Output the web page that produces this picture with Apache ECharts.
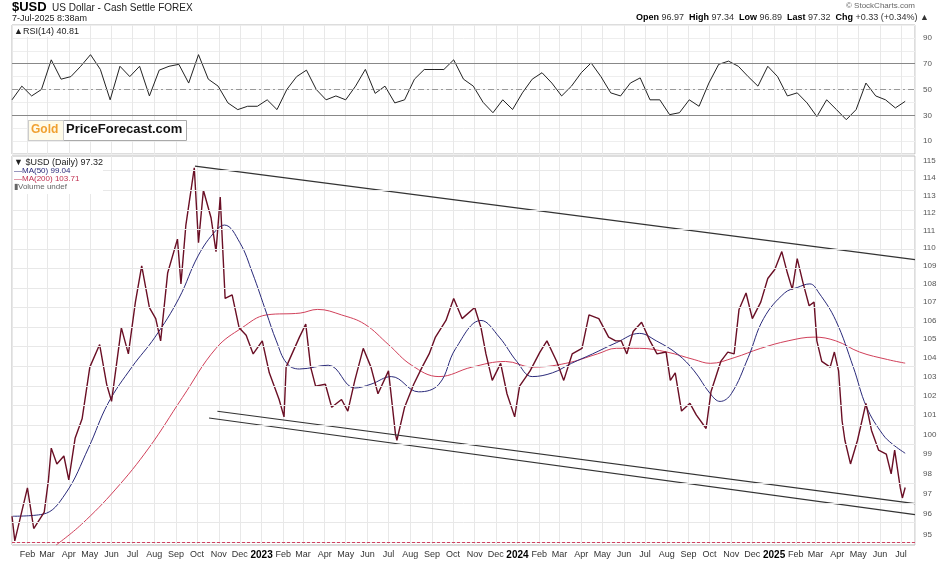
<!DOCTYPE html>
<html>
<head>
<meta charset="utf-8">
<script src="https://cdn.jsdelivr.net/npm/echarts@6/dist/echarts.min.js"></script>
<style>
  html, body { margin: 0; padding: 0; background: #fff; }
  #charts { width: 945px; height: 561px; }
</style>
</head>
<body>
<div id="charts"></div>
<script>
// daily close
var priceDates = ['2022-01-10','2022-01-14','2022-02-01','2022-02-10','2022-02-25','2022-03-03','2022-03-07','2022-03-15','2022-03-25','2022-04-01','2022-04-10','2022-04-20','2022-05-01','2022-05-15','2022-05-25','2022-06-01','2022-06-15','2022-06-25','2022-07-05','2022-07-14','2022-07-25','2022-08-03','2022-08-10','2022-08-20','2022-09-03','2022-09-08','2022-09-15','2022-09-27','2022-10-03','2022-10-10','2022-10-21','2022-10-28','2022-11-03','2022-11-10','2022-11-20','2022-11-30','2022-12-10','2022-12-20','2023-01-02','2023-01-12','2023-01-26','2023-02-02','2023-02-05','2023-02-24','2023-03-05','2023-03-12','2023-03-19','2023-04-02','2023-04-11','2023-04-25','2023-05-04','2023-05-14','2023-05-26','2023-06-06','2023-06-16','2023-07-01','2023-07-11','2023-07-13','2023-07-24','2023-08-06','2023-08-18','2023-08-28','2023-09-06','2023-09-21','2023-10-02','2023-10-14','2023-11-01','2023-11-10','2023-11-17','2023-11-26','2023-12-08','2023-12-17','2023-12-28','2024-01-04','2024-01-19','2024-02-02','2024-02-12','2024-02-26','2024-03-07','2024-03-19','2024-04-02','2024-04-12','2024-04-26','2024-05-10','2024-05-20','2024-05-28','2024-06-05','2024-06-14','2024-06-26','2024-07-08','2024-07-18','2024-07-31','2024-08-06','2024-08-13','2024-08-22','2024-09-03','2024-09-12','2024-09-26','2024-10-03','2024-10-17','2024-10-27','2024-11-05','2024-11-12','2024-11-22','2024-12-01','2024-12-13','2024-12-23','2025-01-02','2025-01-12','2025-01-20','2025-01-27','2025-02-03','2025-02-11','2025-02-20','2025-02-27','2025-03-03','2025-03-10','2025-03-22','2025-03-28','2025-04-03','2025-04-08','2025-04-12','2025-04-20','2025-04-30','2025-05-12','2025-05-20','2025-05-30','2025-06-10','2025-06-17','2025-06-22','2025-06-30','2025-07-03','2025-07-07'];
var priceVals = [95.9,94.7,97.3,95.3,96.1,97.7,99.3,98.5,98.9,97.7,99.8,100.8,103.5,104.7,102.6,101.7,105.6,104.2,107.0,109.0,106.7,106.1,104.9,108.6,110.5,108.0,111.3,114.6,110.3,113.3,111.7,109.8,112.9,107.2,107.4,105.6,105.2,104.2,104.9,103.2,101.8,100.9,103.5,105.1,105.8,103.5,102.5,102.6,101.4,101.8,101.2,102.8,104.5,103.5,102.1,103.3,100.0,99.7,101.4,102.6,103.5,104.2,105.1,106.0,107.2,106.1,106.7,105.6,104.2,102.8,103.7,102.1,100.9,102.5,103.3,104.3,104.9,103.8,102.8,104.2,104.5,106.3,106.1,105.1,104.9,104.9,104.2,105.4,105.9,104.9,104.2,104.3,102.8,103.2,101.2,101.6,101.0,100.3,102.2,103.8,104.3,104.2,106.6,107.5,106.1,107.0,108.3,108.8,109.8,108.6,107.7,109.4,108.1,106.8,107.0,104.9,103.8,103.5,104.3,103.3,100.7,99.7,98.5,99.7,101.6,100.2,99.2,99.0,98.0,99.2,97.3,96.8,97.32];

var ma50Dates = ['2022-01-11','2022-02-23','2022-03-27','2022-04-29','2022-05-27','2022-06-30','2022-08-02','2022-09-05','2022-10-03','2022-10-28','2022-11-09','2022-12-01','2022-12-19','2023-01-08','2023-01-22','2023-02-06','2023-02-24','2023-04-06','2023-05-14','2023-06-06','2023-07-05','2023-08-13','2023-09-11','2023-10-05','2023-11-10','2023-12-06','2023-12-31','2024-01-22','2024-02-20','2024-03-18','2024-04-17','2024-05-21','2024-06-23','2024-07-17','2024-08-16','2024-09-09','2024-10-02','2024-10-16','2024-11-01','2024-11-25','2024-12-17','2025-01-16','2025-02-03','2025-02-21','2025-03-06','2025-03-30','2025-04-24','2025-05-13','2025-06-05','2025-06-19','2025-07-07'];
var ma50Vals = [95.9,96.0,97.0,99.3,101.6,103.5,105.1,107.2,109.6,111.0,111.3,110.3,108.6,106.4,104.9,103.7,103.4,103.6,102.4,102.6,103.0,102.2,102.6,104.5,106.0,105.1,103.8,103.0,103.2,103.7,104.2,104.8,105.3,104.9,104.2,103.3,102.1,101.7,102.1,104.0,106.1,107.5,107.8,108.0,107.5,106.0,103.5,101.4,100.0,99.5,99.04];

var ma200Dates = ['2022-03-14','2022-04-19','2022-06-06','2022-07-24','2022-09-10','2022-10-28','2022-12-04','2023-01-08','2023-02-25','2023-03-22','2023-04-25','2023-05-28','2023-07-01','2023-08-03','2023-09-11','2023-10-28','2023-12-15','2024-01-22','2024-03-10','2024-04-24','2024-05-21','2024-06-23','2024-08-01','2024-09-09','2024-10-02','2024-11-05','2024-12-13','2025-01-21','2025-02-27','2025-03-30','2025-05-03','2025-06-12','2025-07-07'];
var ma200Vals = [94.5,95.5,97.2,99.3,101.9,104.5,105.6,106.3,106.4,106.6,106.3,105.8,104.7,103.6,103.0,103.5,103.8,103.5,103.7,104.2,104.5,104.5,104.3,103.9,103.7,104.0,104.5,104.9,105.1,104.9,104.3,103.9,103.71];

// RSI(14), one reading every two weeks from 2022-01-10
var rsiVals = [42,52.6,45,50,73,58,60,68,77,65.6,42,68,60,68,45,65,68,69.5,55,77,58,52.6,39.6,34.4,37,37,42,34.4,50,60,65,50,42,45,42,52.6,65.6,47,52.6,39.6,42,58,65.5,65.5,65.5,73,58,52.6,40,32,42,34.5,47.4,58,63,55,45,52.6,63,70.6,60,47.4,45,55,59,42,42,30.5,32,42,37,55,69.5,72,68,60,52.6,68,60,45,47.4,39.6,29,42,34.4,26.6,34.4,55,45,42,35.7,40.81];

// trend channel: [date, price]
var upperLine = [['2022-09-28', 114.7], ['2025-07-21', 109.35]];
var lowerLine1 = [['2022-10-30', 101.19], ['2025-07-21', 96.52]];
var lowerLine2 = [['2022-10-18', 100.84], ['2025-07-21', 95.98]];
var priceTicks = [95,96,97,98,99,100,101,102,103,104,105,106,107,108,109,110,111,112,113,114,115];
var supportLevel = 94.6;

var rsiDates = [];
var d0 = new Date('2022-01-10T00:00:00Z').getTime();
for (var i = 0; i < rsiVals.length; i++) {
  rsiDates.push(new Date(d0 + i * 14 * 86400000).toISOString().slice(0, 10));
}

function zipLn(ds, vs) {
  return ds.map(function (d, i) { return [d, Math.log(vs[i])]; });
}
function lineLn(pts) {
  return pts.map(function (p) { return [p[0], Math.log(p[1])]; });
}

var myChart = echarts.init(document.getElementById('charts'), null, { renderer: 'canvas' });

var font = 'Arial, "Liberation Sans", sans-serif';
var xMin = '2022-01-10', xMax = '2025-07-21';

var option = {
  animation: false,
  backgroundColor: '#fff',
  textStyle: { fontFamily: font },
  grid: [
    { left: 12, right: 30, top: 25, height: 129, show: true, borderColor: '#bbb', borderWidth: 1 },
    { left: 12, right: 30, top: 156, bottom: 16, show: true, borderColor: '#bbb', borderWidth: 1 }
  ],
  xAxis: [
    {
      type: 'time', gridIndex: 0, min: xMin, max: xMax,
      minInterval: 28 * 86400000, maxInterval: 31 * 86400000,
      axisLine: { show: false }, axisTick: { show: false }, axisLabel: { show: false },
      splitLine: { show: true, lineStyle: { color: '#e8e8e8' } }
    },
    {
      type: 'time', gridIndex: 1, min: xMin, max: xMax,
      minInterval: 28 * 86400000, maxInterval: 31 * 86400000,
      axisLine: { show: false }, axisTick: { show: false },
      splitLine: { show: true, lineStyle: { color: '#e8e8e8' } },
      axisLabel: {
        fontSize: 9, color: '#333', margin: 5, hideOverlap: false,
        formatter: { year: '{y|{yyyy}}', month: '{MMM}', day: '', hour: '' },
        rich: { y: { fontWeight: 'bold', fontSize: 10, color: '#000' } }
      }
    }
  ],
  yAxis: [
    {
      type: 'value', gridIndex: 0, position: 'right', min: 0, max: 100, interval: 10,
      axisLine: { show: false }, axisTick: { show: false },
      splitLine: { show: true, lineStyle: { color: '#eeeeee' } },
      axisLabel: {
        fontSize: 8, color: '#555', margin: 8,
        formatter: function (v) { return (v % 20 === 10) ? String(v) : ''; }
      }
    },
    {
      type: 'value', gridIndex: 1, position: 'right',
      min: Math.log(94.5), max: Math.log(115.3),
      axisLine: { show: false }, splitLine: { show: false },
      axisTick: { show: false, customValues: priceTicks.map(Math.log) },
      axisLabel: {
        fontSize: 8, color: '#555', margin: 8,
        customValues: priceTicks.map(Math.log),
        formatter: function (v) { return String(Math.round(Math.exp(v))); }
      }
    }
  ],
  series: [
    {
      name: 'RSI', type: 'line', xAxisIndex: 0, yAxisIndex: 0, symbol: 'none',
      data: rsiDates.map(function (d, i) { return [d, rsiVals[i]]; }),
      lineStyle: { color: '#222', width: 1 },
      markLine: {
        silent: true, symbol: 'none', label: { show: false },
        data: [
          { yAxis: 70, lineStyle: { color: '#888', type: 'solid', width: 1.2 } },
          { yAxis: 30, lineStyle: { color: '#888', type: 'solid', width: 1.2 } },
          { yAxis: 50, lineStyle: { color: '#999', type: [6, 3, 2, 3], width: 1 } }
        ]
      }
    },
    {
      name: 'grid', type: 'line', xAxisIndex: 1, yAxisIndex: 1, data: [], silent: true,
      markLine: {
        silent: true, symbol: 'none', label: { show: false },
        lineStyle: { color: '#e8e8e8', type: 'solid', width: 1 },
        data: priceTicks.map(function (t) { return { yAxis: Math.log(t) }; })
          .concat([{ yAxis: Math.log(supportLevel), lineStyle: { color: '#d04060', type: [3, 2], width: 1.2 } }])
      }
    },
    {
      name: 'MA(200)', type: 'line', xAxisIndex: 1, yAxisIndex: 1, symbol: 'none', smooth: 0.4,
      data: zipLn(ma200Dates, ma200Vals), lineStyle: { color: '#d0405a', width: 1 }
    },
    {
      name: 'MA(50)', type: 'line', xAxisIndex: 1, yAxisIndex: 1, symbol: 'none', smooth: 0.4,
      data: zipLn(ma50Dates, ma50Vals), lineStyle: { color: '#2a2a7a', width: 1 }
    },
    {
      name: '$USD', type: 'line', xAxisIndex: 1, yAxisIndex: 1, symbol: 'none',
      data: zipLn(priceDates, priceVals), lineStyle: { color: '#6a0f25', width: 1.4 }
    },
    {
      name: 'upper', type: 'line', xAxisIndex: 1, yAxisIndex: 1, symbol: 'none',
      data: lineLn(upperLine), lineStyle: { color: '#333', width: 1.2 }
    },
    {
      name: 'lower1', type: 'line', xAxisIndex: 1, yAxisIndex: 1, symbol: 'none',
      data: lineLn(lowerLine1), lineStyle: { color: '#333', width: 1.2 }
    },
    {
      name: 'lower2', type: 'line', xAxisIndex: 1, yAxisIndex: 1, symbol: 'none',
      data: lineLn(lowerLine2), lineStyle: { color: '#333', width: 1.2 }
    }
  ],
  graphic: {
    elements: [
      { type: 'text', z: 100, left: 12, top: 1, style: { text: '$USD', font: 'bold 13px ' + font, fill: '#000' } },
      { type: 'text', z: 100, left: 52, top: 3, style: { text: 'US Dollar - Cash Settle FOREX', font: '10px ' + font, fill: '#222' } },
      { type: 'text', z: 100, left: 12, top: 14, style: { text: '7-Jul-2025 8:38am', font: '9px ' + font, fill: '#222' } },
      { type: 'text', z: 100, right: 30, top: 2, style: { text: '© StockCharts.com', font: '8px ' + font, fill: '#666' } },
      { type: 'text', z: 100, right: 16, top: 13, style: {
          text: '{b|Open} 96.97  {b|High} 97.34  {b|Low} 96.89  {b|Last} 97.32  {b|Chg} +0.33 (+0.34%) ▲',
          font: '9px ' + font, fill: '#333', rich: { b: { fontWeight: 'bold', fontSize: 9, fill: '#000' } } } },
      { type: 'rect', z: 99, left: 13, top: 26, shape: { width: 70, height: 11 }, style: { fill: '#fff' } },
      { type: 'text', z: 100, left: 14, top: 27, style: { text: '▲RSI(14) 40.81', font: '9px ' + font, fill: '#222' } },
      { type: 'rect', z: 99, left: 28, top: 120, shape: { width: 158, height: 20 }, style: { fill: '#fff', stroke: '#aaa', lineWidth: 1 } },
      { type: 'rect', z: 99, left: 28, top: 120, shape: { width: 35, height: 20 }, style: { fill: '#fffbe8', stroke: '#ccc', lineWidth: 1 } },
      { type: 'text', z: 100, left: 31, top: 124, style: { text: 'Gold', font: 'bold 12px ' + font, fill: '#f0a030' } },
      { type: 'text', z: 100, left: 66, top: 123, style: { text: 'PriceForecast.com', font: 'bold 13px ' + font, fill: '#111' } },
      { type: 'rect', z: 99, left: 13, top: 157, shape: { width: 90, height: 37 }, style: { fill: '#fff' } },
      { type: 'text', z: 100, left: 14, top: 158, style: { text: '▼ $USD (Daily) 97.32', font: '9px ' + font, fill: '#222' } },
      { type: 'text', z: 100, left: 14, top: 167, style: { text: '—MA(50) 99.04', font: '8px ' + font, fill: '#2a2a7a' } },
      { type: 'text', z: 100, left: 14, top: 175, style: { text: '—MA(200) 103.71', font: '8px ' + font, fill: '#c03050' } },
      { type: 'text', z: 100, left: 14, top: 183, style: { text: '▮Volume undef', font: '8px ' + font, fill: '#666' } }
    ]
  }
};

myChart.setOption(option);
</script>
</body>
</html>
